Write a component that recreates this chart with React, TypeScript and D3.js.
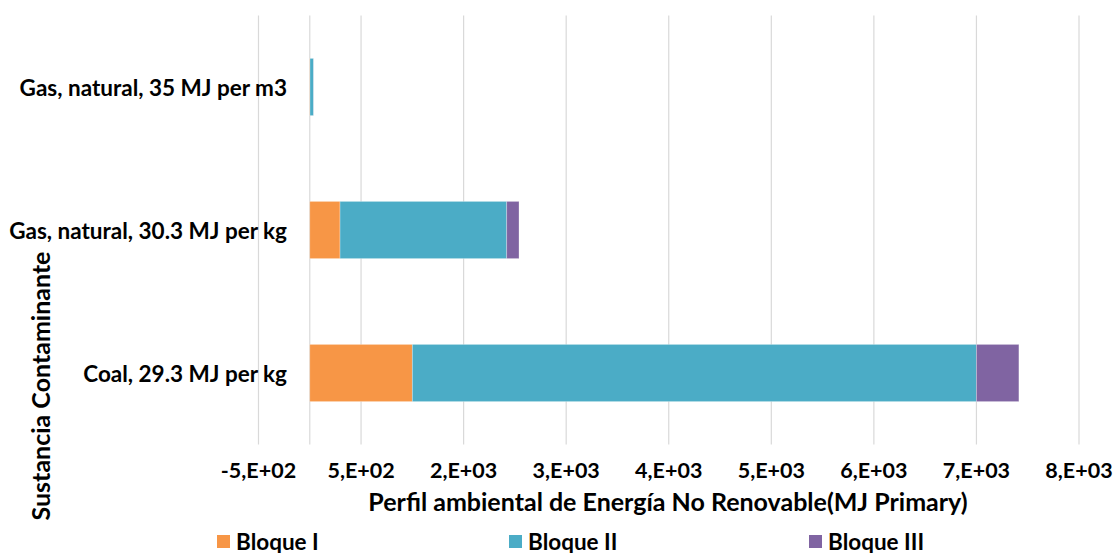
import React from "react";
import * as d3 from "d3";

const categories = [
  "Gas, natural, 35 MJ per m3",
  "Gas, natural, 30.3 MJ per kg",
  "Coal, 29.3 MJ per kg",
];
const seriesNames = ["Bloque I", "Bloque II", "Bloque III"];
const bloqueI = [2, 295, 1000];
const bloqueII = [35, 1625, 5500];
const bloqueIII = [1, 120, 414];
const xTicks = [-500, 500, 1500, 2500, 3500, 4500, 5500, 6500, 7500];
const xTickLabels = ["-5,E+02", "5,E+02", "2,E+03", "3,E+03", "4,E+03", "5,E+03", "6,E+03", "7,E+03", "8,E+03"];
const colors = ["#F79646", "#4BACC6", "#8064A2"];

const W = 1114;
const H = 553;
const FONT = "Lato, 'Open Sans', sans-serif";

export default function App() {
  const left = 258.5;
  const right = 1079;
  const top = 15.5;
  const bottom = 444.5;

  const x = d3.scaleLinear().domain([-500, 7500]).range([left, right]);
  const y = d3
    .scaleBand<string>()
    .domain(categories)
    .range([top, bottom])
    .paddingInner(0.6)
    .paddingOuter(0.3);

  const rows = categories.map((c, i) => ({
    cat: c,
    "Bloque I": bloqueI[i],
    "Bloque II": bloqueII[i],
    "Bloque III": bloqueIII[i],
  }));
  const stacked = d3.stack<any>().keys(seriesNames)(rows);

  const legendX = [217, 509, 809];

  return (
    <svg
      width={W}
      height={H}
      style={{ position: "absolute", left: 0, top: 0, display: "block", background: "#fff" }}
      fontFamily={FONT}
    >
      {xTicks.map((t) => (
        <line key={t} x1={x(t)} x2={x(t)} y1={top} y2={bottom} stroke="#D9D9D9" strokeWidth={1.2} />
      ))}
      <line x1={x(0)} x2={x(0)} y1={top} y2={bottom} stroke="#D9D9D9" strokeWidth={1.2} />
      {stacked.map((s, si) =>
        s.map((d, i) => (
          <rect
            key={si + "-" + i}
            x={x(d[0])}
            y={y(categories[i])}
            width={Math.max(0, x(d[1]) - x(d[0]))}
            height={y.bandwidth()}
            fill={colors[si]}
            stroke="#ffffff"
            strokeOpacity={0.35}
            strokeWidth={0.8}
          />
        ))
      )}
      {categories.map((c) => (
        <text
          key={c}
          x={287}
          y={(y(c) as number) + y.bandwidth() / 2}
          textAnchor="end"
          dominantBaseline="central"
          fontSize={22.5}
          fontWeight="bold"
          fill="#000"
        >
          {c}
        </text>
      ))}
      {xTicks.map((t, i) => (
        <text
          key={"tl" + t}
          x={x(t)}
          y={470}
          textAnchor="middle"
          dominantBaseline="central"
          fontSize={21.5}
          fontWeight="bold"
          fill="#000"
        >
          {xTickLabels[i]}
        </text>
      ))}
      <text
        x={668}
        y={501}
        textAnchor="middle"
        dominantBaseline="central"
        fontSize={25}
        fontWeight="bold"
        fill="#000"
      >
        Perfil ambiental de Energía No Renovable(MJ Primary)
      </text>
      <text
        transform={`translate(40,386) rotate(-90)`}
        textAnchor="middle"
        dominantBaseline="central"
        fontSize={25}
        fontWeight="bold"
        fill="#000"
      >
        Sustancia Contaminante
      </text>
      {seriesNames.map((n, i) => (
        <g key={n} transform={`translate(${legendX[i]},541)`}>
          <rect x={0} y={-6} width={13} height={13} fill={colors[i]} />
          <text x={19} y={0} dominantBaseline="central" fontSize={22.5} fontWeight="bold" fill="#000">
            {n}
          </text>
        </g>
      ))}
    </svg>
  );
}
